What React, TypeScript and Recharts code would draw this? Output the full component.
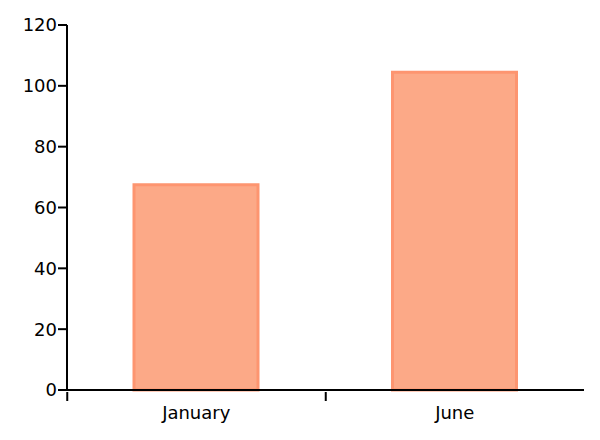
import { Bar, BarChart, XAxis, YAxis } from "recharts";

const months = ["January", "June"];
const values = [67.5, 104.5];
const yTicks = [0, 20, 40, 60, 80, 100, 120];

const data = months.map((m, i) => ({ month: m, value: values[i] }));

const BAND = 258;

function MonthTick(props: any) {
  const { x, y, payload } = props;
  const left = x - BAND / 2;
  return (
    <g>
      <line x1={left} x2={left} y1={y} y2={y + 9} stroke="#000" strokeWidth={2} />
      <text x={x} y={y + 27} textAnchor="middle" fill="#000" fontSize={18}>
        {payload.value}
      </text>
    </g>
  );
}

export default function App() {
  return (
    <div style={{ width: 600, height: 424, fontFamily: "'DejaVu Sans', Verdana, sans-serif" }}>
      <BarChart
        width={600}
        height={424}
        data={data}
        margin={{ top: 17, right: 24, left: 0, bottom: 12 }}
      >
        <XAxis
          dataKey="month"
          tick={<MonthTick />}
          tickLine={false}
          tickSize={0}
          height={30}
          axisLine={{ stroke: "#000", strokeWidth: 2 }}
        />
        <YAxis
          domain={[0, 120]}
          ticks={yTicks}
          width={59}
          tickSize={9}
          tickMargin={1}
          tick={{ fill: "#000", fontSize: 18 }}
          tickLine={{ stroke: "#000", strokeWidth: 2 }}
          axisLine={{ stroke: "#000", strokeWidth: 2 }}
        />
        <Bar
          dataKey="value"
          barSize={124}
          fill="#fca987"
          stroke="#fd9570"
          strokeWidth={3}
          isAnimationActive={false}
        />
      </BarChart>
    </div>
  );
}
